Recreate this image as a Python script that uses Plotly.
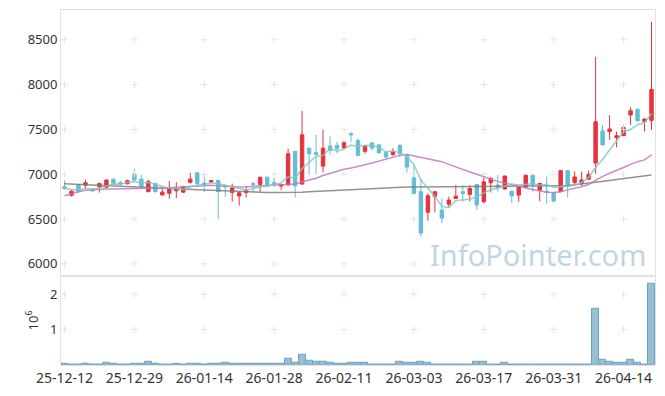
import plotly.graph_objects as go
from plotly.subplots import make_subplots
import pandas as pd

dates = [
    "25-12-12", "25-12-15", "25-12-16", "25-12-17", "25-12-18", "25-12-19", "25-12-22", "25-12-23", "25-12-24", "25-12-26",
    "25-12-29", "25-12-30", "26-01-02", "26-01-05", "26-01-06", "26-01-07", "26-01-08", "26-01-09", "26-01-12", "26-01-13",
    "26-01-14", "26-01-15", "26-01-16", "26-01-19", "26-01-20", "26-01-21", "26-01-22", "26-01-23", "26-01-26", "26-01-27",
    "26-01-28", "26-01-29", "26-01-30", "26-02-02", "26-02-03", "26-02-04", "26-02-05", "26-02-06", "26-02-09", "26-02-10",
    "26-02-11", "26-02-12", "26-02-13", "26-02-19", "26-02-20", "26-02-23", "26-02-24", "26-02-25", "26-02-26", "26-02-27",
    "26-03-03", "26-03-04", "26-03-05", "26-03-06", "26-03-09", "26-03-10", "26-03-11", "26-03-12", "26-03-13", "26-03-16",
    "26-03-17", "26-03-18", "26-03-19", "26-03-20", "26-03-23", "26-03-24", "26-03-25", "26-03-26", "26-03-27", "26-03-30",
    "26-03-31", "26-04-01", "26-04-02", "26-04-03", "26-04-06", "26-04-07", "26-04-08", "26-04-09", "26-04-10", "26-04-13",
    "26-04-14", "26-04-15", "26-04-16", "26-04-17", "26-04-20",
]

opens = [
    6860, 6765, 6885, 6878, 6832, 6860, 6855, 6945, 6905, 6893,
    7005, 6945, 6805, 6895, 6768, 6788, 6815, 6800, 6910, 7015,
    6902, 6912, 6930, 6870, 6797, 6757, 6795, 6895, 6885, 6965,
    6905, 6867, 6880, 7255, 6890, 7290, 7240, 7090, 7315, 7320,
    7292, 7452, 7375, 7255, 7350, 7327, 7240, 7218, 7320, 7215,
    6960, 6805, 6575, 6750, 6600, 6665, 6730, 6805, 6775, 6885,
    6693, 6905, 6880, 6835, 6810, 6767, 6855, 6988, 6822, 6812,
    6796, 6805, 7040, 6907, 6896, 6945, 7125, 7483, 7475, 7408,
    7430, 7660, 7725, 7585, 7600,
]
highs = [
    6930, 6825, 6890, 6940, 6840, 6905, 6940, 6950, 6925, 6940,
    7060, 6990, 6940, 6905, 6850, 6925, 6910, 6870, 7015, 7025,
    7000, 6935, 6935, 6885, 6895, 6805, 6870, 6915, 6975, 6975,
    6960, 6895, 7285, 7255, 7705, 7300, 7440, 7495, 7420, 7360,
    7370, 7475, 7400, 7330, 7355, 7335, 7250, 7290, 7338, 7228,
    7105, 6950, 6785, 6810, 6730, 6750, 6878, 6878, 6878, 6885,
    6960, 6970, 6990, 6985, 6815, 6860, 6995, 6995, 6905, 6973,
    6800, 7043, 7045, 7030, 7030, 7040, 8310, 7550, 7660, 7475,
    7545, 7745, 7730, 7625, 8700,
]
lows = [
    6830, 6750, 6795, 6840, 6805, 6795, 6845, 6890, 6870, 6885,
    6915, 6850, 6800, 6795, 6763, 6725, 6735, 6790, 6895, 6860,
    6800, 6900, 6500, 6750, 6695, 6650, 6740, 6790, 6790, 6850,
    6855, 6825, 6870, 6740, 6880, 6990, 7000, 7020, 7220, 7230,
    7285, 7360, 7205, 7228, 7265, 7228, 7170, 7205, 7191, 7017,
    6780, 6305, 6480, 6575, 6455, 6627, 6722, 6695, 6695, 6600,
    6675, 6796, 6805, 6830, 6680, 6693, 6850, 6805, 6700, 6670,
    6690, 6800, 6740, 6885, 6870, 6935, 7005, 7320, 7385, 7300,
    7425, 7550, 7590, 7475, 7495,
]
closes = [
    6840, 6810, 6805, 6905, 6814, 6895, 6935, 6900, 6890, 6928,
    6935, 6860, 6918, 6805, 6800, 6843, 6838, 6862, 6945, 6898,
    6885, 6930, 6805, 6860, 6848, 6792, 6815, 6885, 6965, 6885,
    6893, 6885, 7228, 6870, 7440, 7228, 7220, 7290, 7265, 7283,
    7350, 7440, 7210, 7313, 7292, 7240, 7192, 7253, 7228, 7080,
    6785, 6343, 6760, 6805, 6510, 6711, 6755, 6785, 6840, 6657,
    6915, 6950, 6850, 6980, 6758, 6859, 6988, 6880, 6896, 6797,
    6700, 7040, 6880, 6970, 6936, 6998, 7585, 7328, 7505, 7430,
    7520, 7708, 7597, 7615, 7945,
]
volumes = [
    30000, 5000, 5000, 30000, 5000, 5000, 60000, 30000, 5000, 5000,
    30000, 30000, 85000, 30000, 5000, 5000, 30000, 5000, 30000, 30000,
    5000, 30000, 30000, 50000, 30000, 30000, 30000, 30000, 30000, 30000,
    30000, 30000, 170000, 60000, 280000, 110000, 90000, 90000, 60000, 30000,
    30000, 50000, 50000, 50000, 20000, 20000, 20000, 20000, 80000, 50000,
    50000, 80000, 50000, 20000, 20000, 5000, 20000, 5000, 5000, 80000,
    80000, 20000, 20000, 50000, 20000, 5000, 20000, 20000, 20000, 20000,
    5000, 20000, 20000, 20000, 5000, 20000, 1580000, 150000, 90000, 65000,
    65000, 150000, 65000, 20000, 2290000,
]
ma20 = [
    6760, 6785, 6805, 6822, 6828, 6832, 6835, 6836, 6837, 6838,
    6840, 6841, 6842, 6843, 6846, 6850, 6855, 6860, 6866, 6872,
    6877, 6876, 6870, 6865, 6860, 6858, 6860, 6865, 6870, 6873,
    6876, 6878, 6883, 6890, 6915, 6935, 6955, 6985, 7010, 7035,
    7055, 7070, 7085, 7105, 7125, 7145, 7165, 7185, 7210, 7220,
    7205, 7185, 7170, 7160, 7140, 7110, 7080, 7050, 7025, 7000,
    6970, 6945, 6920, 6900, 6880, 6860, 6845, 6830, 6815, 6800,
    6795, 6805, 6825, 6840, 6860, 6885, 6930, 6975, 7010, 7040,
    7075, 7110, 7140, 7160, 7215,
]
ma60 = [
    6893, 6890, 6887, 6883, 6880, 6877, 6873, 6870, 6867, 6863,
    6860, 6856, 6853, 6849, 6846, 6842, 6839, 6835, 6832, 6828,
    6825, 6821, 6817, 6813, 6809, 6805, 6802, 6799, 6797, 6796,
    6795, 6795, 6796, 6798, 6800, 6804, 6808, 6812, 6815, 6820,
    6825, 6830, 6835, 6838, 6842, 6845, 6848, 6851, 6853, 6856,
    6858, 6859, 6860, 6862, 6863, 6864, 6864, 6865, 6865, 6865,
    6866, 6866, 6866, 6866, 6866, 6867, 6867, 6867, 6868, 6868,
    6869, 6871, 6875, 6882, 6890, 6900, 6910, 6920, 6930, 6940,
    6950, 6960, 6970, 6980, 6990,
]
tick_dates = dates[::10]
price_ticks = [6000, 6500, 7000, 7500, 8000, 8500]
vol_ticks = [1, 2]

RED = "#e8323b"
BLUE = "#62bed6"
FONT = "Noto Sans"
GRID = "#e4e4e4"
FRAME = "#e2e2e2"

ma5 = pd.Series(closes).rolling(5, min_periods=1).mean()
vol_m = [v / 1e6 for v in volumes]

fig = make_subplots(rows=2, cols=1, shared_xaxes=True, vertical_spacing=0,
                    row_heights=[268 / 358, 90 / 358])

# grid crosses at tick intersections
gx = [d for d in tick_dates for _ in price_ticks]
gy = [p for _ in tick_dates for p in price_ticks]
fig.add_trace(go.Scatter(x=gx, y=gy, mode="markers", hoverinfo="skip", showlegend=False,
                         marker=dict(symbol="cross-thin", size=5, line=dict(color=GRID, width=1))),
              row=1, col=1)
gx2 = [d for d in tick_dates for _ in vol_ticks]
gy2 = [p for _ in tick_dates for p in vol_ticks]
fig.add_trace(go.Scatter(x=gx2, y=gy2, mode="markers", hoverinfo="skip", showlegend=False,
                         marker=dict(symbol="cross-thin", size=5, line=dict(color=GRID, width=1))),
              row=2, col=1)

fig.add_trace(go.Scatter(x=dates, y=ma60, mode="lines", showlegend=False, hoverinfo="skip",
                         line=dict(color="rgba(120,120,120,0.8)", width=1.5)), row=1, col=1)
fig.add_trace(go.Scatter(x=dates, y=ma20, mode="lines", showlegend=False, hoverinfo="skip",
                         line=dict(color="rgba(195,120,185,0.85)", width=1.5)), row=1, col=1)

fig.add_trace(go.Candlestick(
    x=dates, open=opens, high=highs, low=lows, close=closes,
    increasing=dict(line=dict(color=RED, width=1), fillcolor=RED),
    decreasing=dict(line=dict(color=BLUE, width=1), fillcolor=BLUE),
    whiskerwidth=0, showlegend=False, hoverinfo="skip"), row=1, col=1)

fig.add_trace(go.Scatter(x=dates, y=ma5, mode="lines", showlegend=False, hoverinfo="skip",
                         line=dict(color="rgba(130,200,190,0.85)", width=1.5)), row=1, col=1)

fig.add_trace(go.Bar(x=dates, y=vol_m, showlegend=False, hoverinfo="skip",
                     marker=dict(color="rgba(140,185,208,0.9)",
                                 line=dict(color="rgba(110,160,195,1)", width=1))),
              row=2, col=1)

fig.add_annotation(text="InfoPointer.com", xref="paper", yref="paper", x=0.988, y=0.31,
                   xanchor="right", yanchor="middle", showarrow=False,
                   font=dict(family=FONT, size=29, color="rgba(172,200,218,0.75)"))

axis_common = dict(showgrid=False, zeroline=False, showline=True, linecolor=FRAME,
                   linewidth=1, mirror=True, ticks="")
fig.update_xaxes(type="category", categoryorder="array", categoryarray=dates,
                 range=[-0.5, len(dates) - 0.5], tickvals=tick_dates, ticktext=tick_dates,
                 rangeslider_visible=False, tickfont=dict(size=14), **axis_common)
fig.update_xaxes(showticklabels=False, row=1, col=1)
fig.update_yaxes(range=[5867, 8832], tickvals=price_ticks, row=1, col=1, **axis_common)
fig.update_yaxes(range=[0, 2.52], tickvals=vol_ticks, row=2, col=1,
                 title=dict(text="10<sup>6</sup>", standoff=8, font=dict(size=13)), **axis_common)

fig.update_layout(
    width=665, height=396,
    margin=dict(l=61, r=9, t=10, b=28),
    paper_bgcolor="white", plot_bgcolor="white",
    font=dict(family=FONT, size=13, color="#333333"),
    bargap=0,
    showlegend=False,
)

fig.write_html("out.html", config={"displayModeBar": False},
               post_script="document.body.style.margin='0';document.body.style.padding='0';")
